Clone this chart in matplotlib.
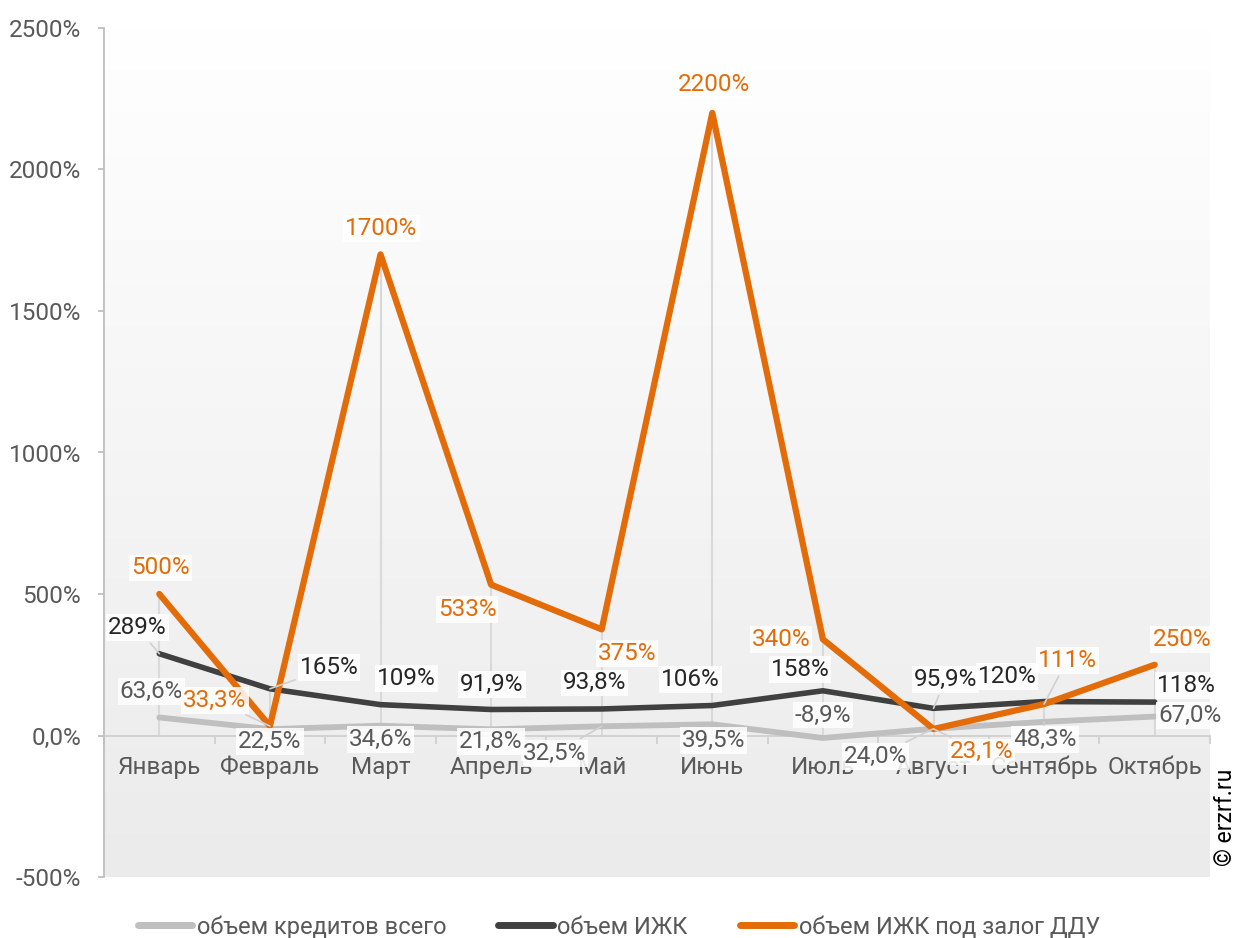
import matplotlib
matplotlib.use("Agg")
import matplotlib.pyplot as plt
import numpy as np
from matplotlib.lines import Line2D

plt.rcParams['font.family'] = ['Roboto', 'DejaVu Sans']

months = ["Январь", "Февраль", "Март", "Апрель", "Май", "Июнь", "Июль", "Август", "Сентябрь", "Октябрь"]
total = [63.6, 22.5, 34.6, 21.8, 32.5, 39.5, -8.9, 24.0, 48.3, 67.0]
izhk = [289, 165, 109, 91.9, 93.8, 106, 158, 95.9, 120, 118]
ddu = [500, 33.3, 1700, 533, 375, 2200, 340, 23.1, 111, 250]

total_labels = ["63,6%", "22,5%", "34,6%", "21,8%", "32,5%", "39,5%", "-8,9%", "24,0%", "48,3%", "67,0%"]
izhk_labels = ["289%", "165%", "109%", "91,9%", "93,8%", "106%", "158%", "95,9%", "120%", "118%"]
ddu_labels = ["500%", "33,3%", "1700%", "533%", "375%", "2200%", "340%", "23,1%", "111%", "250%"]

yticks = [-500, 0, 500, 1000, 1500, 2000, 2500]
ytick_labels = ["-500%", "0,0%", "500%", "1000%", "1500%", "2000%", "2500%"]

series_names = ["объем кредитов всего", "объем ИЖК", "объем ИЖК под залог ДДУ"]

# label offsets in pixels (dx, dy up) and whether a leader line is drawn
ddu_off = [(1, 26), (-55, 26), (1, 26), (-24, -25), (25, -24), (2, 28), (-42, 0), (48, -23), (23, 44), (27, 25)]
izhk_off = [(-22, 26), (59, 21), (26, 26), (1, 25), (-7, 26), (-22, 26), (-23, 21), (12, 29), (-37, 25), (32, 17)]
total_off = [(-8, 26), (0, -12), (0, -14), (0, -12), (-47, -27), (1, -16), (0, 23), (-58, -28), (1, -18), (35, 1)]
ddu_lead = [False, True, False, False, False, False, False, True, True, False]
izhk_lead = [True, True, False, False, False, False, False, True, False, False]
total_lead = [False, False, False, False, True, False, False, True, True, False]

C_GRAY = "#BFBFBF"
C_DARK = "#404040"
C_ORANGE = "#E36C09"
C_TXT = "#595959"
FS = 17.5

fig = plt.figure(figsize=(12.38, 9.38), dpi=100)
ax = fig.add_axes([104/1238, 1-877/938, (1210-104)/1238, (877-28)/938])

x = np.arange(len(months))

# gradient background (white at top, light gray at bottom)
grad = np.linspace(1, 0, 256).reshape(-1, 1)
cmap = matplotlib.colors.LinearSegmentedColormap.from_list("g", ["#ffffff", "#ebebeb"])
ax.imshow(grad, aspect='auto', cmap=cmap, origin='lower',
          extent=[-0.5, len(months)-0.5, -500, 2500], zorder=0)
ax.set_xlim(-0.5, len(months)-0.5)
ax.set_ylim(-500, 2500)

# drop lines
for i in range(len(months)):
    vals = [total[i], izhk[i], ddu[i]]
    ax.vlines(x[i], min(0, min(vals)), max(vals), color="#d9d9d9", lw=1.5, zorder=1)

ax.plot(x, total, color=C_GRAY, lw=4.2, zorder=3, solid_capstyle='round')
ax.plot(x, izhk, color=C_DARK, lw=4.0, zorder=4, solid_capstyle='round')
ax.plot(x, ddu, color=C_ORANGE, lw=4.5, zorder=5, solid_capstyle='round')

def put_labels(vals, labels, offs, leads, color):
    for i, (v, lab, off, ld) in enumerate(zip(vals, labels, offs, leads)):
        ap = dict(arrowstyle='-', color="#d0d0d0", lw=1.2, shrinkA=2, shrinkB=0) if ld else None
        ax.annotate(lab, (x[i], v), xytext=off, textcoords='offset pixels',
                    ha='center', va='center', fontsize=FS, color=color, zorder=7,
                    bbox=dict(boxstyle='square,pad=0.08', fc='white', ec='none', alpha=0.85),
                    arrowprops=ap)

put_labels(total, total_labels, total_off, total_lead, C_TXT)
put_labels(izhk, izhk_labels, izhk_off, izhk_lead, "#262626")
put_labels(ddu, ddu_labels, ddu_off, ddu_lead, C_ORANGE)

# axes styling
for s in ['top', 'right']:
    ax.spines[s].set_visible(False)
ax.spines['left'].set_color(C_GRAY)
ax.spines['left'].set_linewidth(1.3)
ax.spines['bottom'].set_position(('data', 0))
ax.spines['bottom'].set_color("#d0d0d0")
ax.spines['bottom'].set_linewidth(1.3)
ax.spines['bottom'].set_zorder(2)

ax.set_yticks(yticks)
ax.set_yticklabels(ytick_labels)
ax.tick_params(axis='y', colors=C_GRAY, labelcolor=C_TXT, labelsize=FS, length=4, width=1.3, pad=12.5)

ax.set_xticks(x)
ax.set_xticklabels(months)
ax.tick_params(axis='x', which='major', length=0, labelcolor=C_TXT, labelsize=FS, pad=14.5)
ax.set_xticks(np.arange(-0.5, len(months)), minor=True)
ax.tick_params(axis='x', which='minor', length=6, width=1.3, color="#d0d0d0")

fig.text(1225/1238, 1-817/938, "© erzrf.ru", rotation=90, ha='center', va='center', fontsize=16.5, color='black')

handles = [Line2D([0], [0], color=C_GRAY, lw=5, solid_capstyle='round'),
           Line2D([0], [0], color=C_DARK, lw=5, solid_capstyle='round'),
           Line2D([0], [0], color=C_ORANGE, lw=5, solid_capstyle='round')]
fig.legend(handles, series_names, loc='center', bbox_to_anchor=(0.5, 1-927/938), ncol=3,
           frameon=False, fontsize=17, handlelength=2.3, handletextpad=0.2, columnspacing=2.2,
           labelcolor=C_TXT)

fig.savefig("out.png", dpi=100)
